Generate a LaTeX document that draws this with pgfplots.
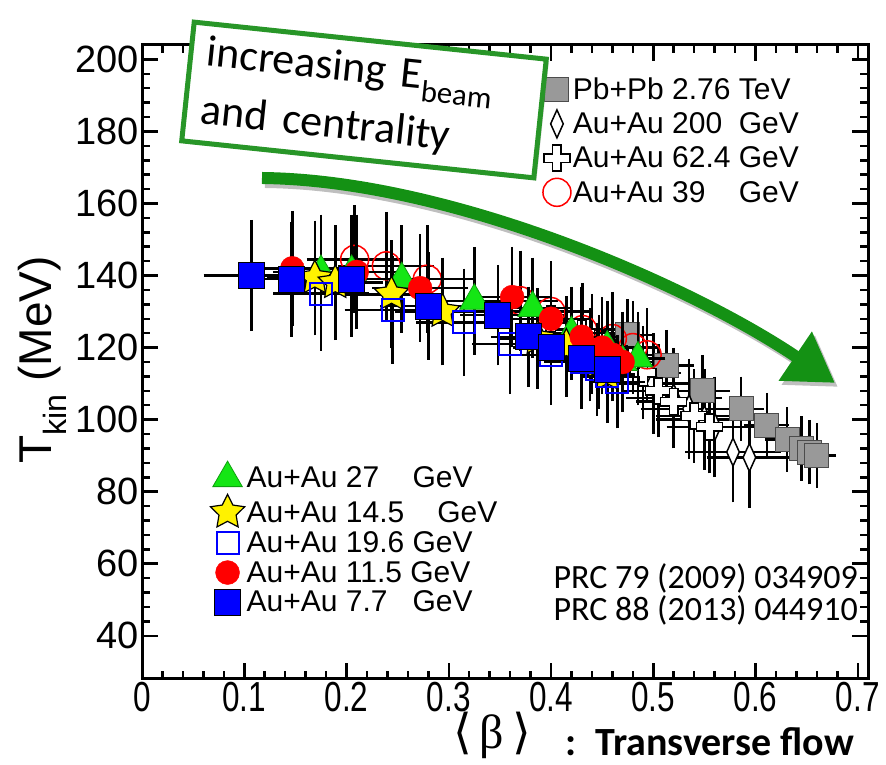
\documentclass[border=0pt]{standalone}
\usepackage{fontspec}
\setmainfont{Liberation Sans}
\newfontfamily\carlito{Carlito}
\newfontfamily\libserif{Liberation Serif}
\newfontfamily\dejaserif{DejaVu Serif}
\usepackage{pgfplots}
\pgfplotsset{compat=1.18}
\usepackage{pgfplotstable}
\usetikzlibrary{arrows.meta,shadows}

\definecolor{pbgray}{gray}{0.6}
\definecolor{trigreen}{RGB}{20,230,20}
\definecolor{boxgreen}{RGB}{40,150,40}
\definecolor{arrowgreen}{RGB}{20,145,20}

% open cross
\pgfdeclareplotmark{ocross}{%
  \pgfpathmoveto{\pgfpoint{-0.33\pgfplotmarksize}{\pgfplotmarksize}}%
  \pgfpathlineto{\pgfpoint{0.33\pgfplotmarksize}{\pgfplotmarksize}}%
  \pgfpathlineto{\pgfpoint{0.33\pgfplotmarksize}{0.33\pgfplotmarksize}}%
  \pgfpathlineto{\pgfpoint{\pgfplotmarksize}{0.33\pgfplotmarksize}}%
  \pgfpathlineto{\pgfpoint{\pgfplotmarksize}{-0.33\pgfplotmarksize}}%
  \pgfpathlineto{\pgfpoint{0.33\pgfplotmarksize}{-0.33\pgfplotmarksize}}%
  \pgfpathlineto{\pgfpoint{0.33\pgfplotmarksize}{-\pgfplotmarksize}}%
  \pgfpathlineto{\pgfpoint{-0.33\pgfplotmarksize}{-\pgfplotmarksize}}%
  \pgfpathlineto{\pgfpoint{-0.33\pgfplotmarksize}{-0.33\pgfplotmarksize}}%
  \pgfpathlineto{\pgfpoint{-\pgfplotmarksize}{-0.33\pgfplotmarksize}}%
  \pgfpathlineto{\pgfpoint{-\pgfplotmarksize}{0.33\pgfplotmarksize}}%
  \pgfpathlineto{\pgfpoint{-0.33\pgfplotmarksize}{0.33\pgfplotmarksize}}%
  \pgfpathclose\pgfusepathqfillstroke}
% filled star
\pgfdeclareplotmark{fstar}{%
  \pgfpathmoveto{\pgfpointpolar{90}{\pgfplotmarksize}}%
  \pgfpathlineto{\pgfpointpolar{126}{0.5\pgfplotmarksize}}%
  \pgfpathlineto{\pgfpointpolar{162}{\pgfplotmarksize}}%
  \pgfpathlineto{\pgfpointpolar{198}{0.5\pgfplotmarksize}}%
  \pgfpathlineto{\pgfpointpolar{234}{\pgfplotmarksize}}%
  \pgfpathlineto{\pgfpointpolar{270}{0.5\pgfplotmarksize}}%
  \pgfpathlineto{\pgfpointpolar{306}{\pgfplotmarksize}}%
  \pgfpathlineto{\pgfpointpolar{342}{0.5\pgfplotmarksize}}%
  \pgfpathlineto{\pgfpointpolar{18}{\pgfplotmarksize}}%
  \pgfpathlineto{\pgfpointpolar{54}{0.5\pgfplotmarksize}}%
  \pgfpathclose\pgfusepathqfillstroke}

% x = <beta>, y = T_kin, ex, ey
\pgfplotstableread{
x y ex ey
0.475 123.5 0.02 8
0.513 115 0.02 8
0.548 108 0.02 8
0.586 103 0.015 7
0.611 98.5 0.015 7
0.631 94.5 0.015 7
0.645 92 0.012 7
0.653 91 0.012 7
0.660 90 0.012 7
}\tPb
\pgfplotstableread{
x y ex ey
0.44 121 0.04 12
0.47 116 0.04 12
0.50 110 0.04 12
0.52 106 0.04 12
0.535 103 0.04 12
0.55 100 0.04 12
0.56 98 0.04 12
0.578 91 0.04 12
0.594 89.5 0.035 12
}\tTwoH
\pgfplotstableread{
x y ex ey
0.40 128 0.03 11
0.43 124 0.03 11
0.45 121 0.03 11
0.47 117 0.03 11
0.49 113 0.03 11
0.505 108 0.03 11
0.52 105 0.03 11
0.54 101 0.03 11
0.555 98 0.03 11
}\tSixTwo
\pgfplotstableread{
x y ex ey
0.208 144.5 0.04 13
0.239 142.7 0.04 13
0.279 139 0.04 13
0.37 133 0.03 12
0.40 130 0.03 12
0.431 125 0.03 11
0.46 122.5 0.02 11
0.48 120 0.02 11
0.494 118 0.02 11
}\tThreeNine
\pgfplotstableread{
x y ex ey
0.175 141 0.04 14
0.205 141 0.04 14
0.254 139 0.04 13
0.325 133 0.03 13
0.382 131 0.03 12
0.42 124 0.03 11
0.455 120 0.02 11
0.47 116 0.02 11
0.485 117 0.02 11
}\tTwoSeven
\pgfplotstableread{
x y ex ey
0.169 139.3 0.04 14
0.189 138 0.04 14
0.244 134.8 0.04 13
0.294 130 0.04 13
0.387 122.5 0.03 12
0.415 120.3 0.03 12
0.438 118 0.02 11
0.447 116 0.02 11
0.455 112.5 0.02 11
}\tFourteen
\pgfplotstableread{
x y ex ey
0.175 135 0.04 14
0.245 130.5 0.04 13
0.315 127 0.04 13
0.36 121 0.03 12
0.40 118 0.03 12
0.43 116 0.03 11
0.445 114 0.02 11
0.455 112 0.02 11
0.465 110.5 0.02 11
}\tNineteen
\pgfplotstableread{
x y ex ey
0.147 142 0.04 14
0.21 141 0.04 14
0.272 136.5 0.04 13
0.362 134 0.03 12
0.40 128 0.03 12
0.43 123 0.03 11
0.45 120 0.02 11
0.46 118 0.02 11
0.47 116 0.02 11
}\tEleven
\pgfplotstableread{
x y ex ey
0.107 140 0.04 13.5
0.146 139 0.03 14
0.205 139 0.04 14
0.28 131.5 0.04 13
0.348 129 0.03 12
0.378 123 0.03 12
0.40 120 0.03 12
0.43 117 0.02 11
0.455 114 0.02 11
}\tSeven

\pgfplotsset{
  frame/.style={at={(142pt,86pt)}, anchor=south west,
    width=726pt, height=634pt, scale only axis,
    xmin=0, xmax=0.71, ymin=28, ymax=204},
  eb/.style={only marks,
    error bars/x dir=both, error bars/x explicit,
    error bars/y dir=both, error bars/y explicit,
    error bars/error bar style={line width=2.5pt, black},
    error bars/error mark options={black, mark size=7pt, line width=2.5pt}},
  leg/.style={legend cell align=left,
    legend style={draw=none, fill=none, inner sep=0pt,
      font=\fontsize{30}{30}\selectfont,
      nodes={inner sep=2pt}}},
}

\begin{document}
\begin{tikzpicture}[x=1pt,y=1pt]
\useasboundingbox (0,0) rectangle (886,765);

\begin{axis}[frame, leg,
    xtick={0,0.1,0.2,0.3,0.4,0.5,0.6,0.7},
    ytick={40,60,80,100,120,140,160,180,200},
    minor x tick num=4, minor y tick num=4,
    tick align=inside, major tick length=16pt, minor tick length=8pt,
    axis line style={line width=3pt},
    tick style={line width=2.5pt, black},
    /pgf/number format/assume math mode=true,
    yticklabel style={font=\fontsize{38}{38}\selectfont},
    xticklabel style={font=\fontsize{42}{42}\selectfont, xscale=0.75},
    legend style={at={(0.552,0.952)}, anchor=north west, row sep=7pt},
]
\addplot[eb, mark=square*, mark size=12pt,
    mark options={fill=pbgray, draw=black!70, line width=1pt}]
    table[x=x, y=y, x error=ex, y error=ey]{\tPb};
\addlegendentry{Pb+Pb 2.76 TeV}
\addplot[eb, mark=diamond*, mark size=14pt,
    mark options={fill=white, draw=black, line width=1.5pt, xscale=0.6}]
    table[x=x, y=y, x error=ex, y error=ey]{\tTwoH};
\addlegendentry{Au+Au 200\hphantom{.} GeV}
\addplot[eb, mark=ocross, mark size=13pt,
    mark options={fill=white, draw=black, line width=1.5pt}]
    table[x=x, y=y, x error=ex, y error=ey]{\tSixTwo};
\addlegendentry{Au+Au 62.4 GeV}
\addplot[eb, mark=o, mark size=14pt,
    mark options={draw=red, line width=1.5pt}]
    table[x=x, y=y, x error=ex, y error=ey]{\tThreeNine};
\addlegendentry{Au+Au 39\hphantom{0.} GeV}
\end{axis}

\begin{axis}[frame, leg, hide axis,
    legend style={at={(0.094,0.344)}, anchor=north west, row sep=3pt},
]
\addplot[eb, mark=triangle*, mark size=17pt,
    mark options={fill=trigreen, draw=trigreen!70!black, line width=0.8pt}]
    table[x=x, y=y, x error=ex, y error=ey]{\tTwoSeven};
\addlegendentry{Au+Au 27\hphantom{.6} GeV}
\addplot[eb, mark=fstar, mark size=18pt,
    mark options={fill=yellow, draw=black, line width=1.2pt}]
    table[x=x, y=y, x error=ex, y error=ey]{\tFourteen};
\addlegendentry{Au+Au 14.5\hspace{1.1em}GeV}
\addplot[eb, mark=square, mark size=11pt,
    mark options={draw=blue, line width=2pt}]
    table[x=x, y=y, x error=ex, y error=ey]{\tNineteen};
\addlegendentry{Au+Au 19.6 GeV}
\addplot[eb, mark=*, mark size=12pt,
    mark options={fill=red, draw=red}]
    table[x=x, y=y, x error=ex, y error=ey]{\tEleven};
\addlegendentry{Au+Au 11.5 GeV}
\addplot[eb, mark=square*, mark size=13pt,
    mark options={fill=blue, draw=black, line width=1pt}]
    table[x=x, y=y, x error=ex, y error=ey]{\tSeven};
\addlegendentry{Au+Au 7.7\hphantom{0} GeV}
\end{axis}

% axis titles
\node[rotate=90, font=\fontsize{46}{46}\selectfont] at (42,405)
  {T\textsubscript{kin} (MeV)};
\node[font=\fontsize{48}{48}\selectfont, inner sep=0pt] at (492,30)
  {{\dejaserif ⟨}\hspace{8pt}{\libserif β}\hspace{8pt}{\dejaserif ⟩}};
\node[anchor=west, font=\carlito\bfseries\fontsize{40}{40}\selectfont] at (562,23)
  {:\, Transverse flow};

% references
\node[anchor=west, font=\carlito\fontsize{34}{34}\selectfont] at (550,187)
  {PRC 79 (2009) 034909};
\node[anchor=west, font=\carlito\fontsize{34}{34}\selectfont] at (550,155)
  {PRC 88 (2013) 044910};

% annotation arrow and box
\draw[black, opacity=0.25, line width=12pt, -{Triangle[length=48pt,width=56pt]}]
  (265,583) .. controls (453,581) and (693,476) .. (838,378);
\draw[arrowgreen, line width=12pt, -{Triangle[length=48pt,width=56pt]}]
  (262,587) .. controls (450,585) and (690,480) .. (835,382);
\node[draw=boxgreen, line width=5pt, fill=white, rotate=-6,
    drop shadow={opacity=0.35}, text width=322pt, inner xsep=16pt, inner ysep=12pt,
    align=left, font=\carlito\fontsize{44}{58}\selectfont] at (364,665)
  {increasing E\textsubscript{beam}\\and centrality};
\end{tikzpicture}
\end{document}
